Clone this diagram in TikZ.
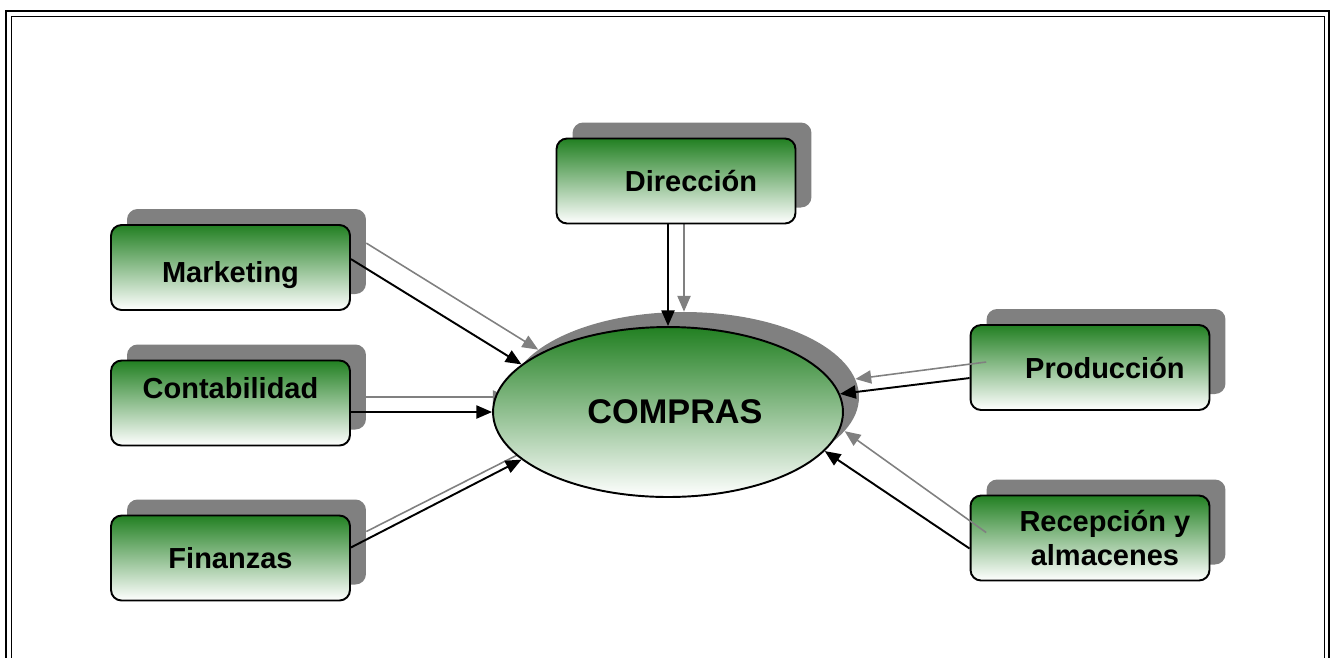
\documentclass[tikz,border=0pt]{standalone}
\usepackage{fontspec}
\setmainfont{Liberation Sans}
\usetikzlibrary{shapes,arrows.meta,positioning,backgrounds}

\definecolor{deptgreen}{RGB}{34,128,34}
\definecolor{deptmid}{RGB}{168,200,168}
\definecolor{shadowgray}{RGB}{128,128,128}

\begin{document}
\begin{tikzpicture}[x=0.02cm,y=-0.02cm,>={Triangle[length=9pt,width=7.5pt]},font=\fontsize{16.5}{19}\selectfont\bfseries,
  main node/.style={rectangle,rounded corners=6pt,draw,line width=1.1pt,minimum width=4.78cm,minimum height=1.7cm,top color=deptgreen,middle color=deptmid,bottom color=white,align=center,inner sep=0pt},
  shadow node/.style={rectangle,rounded corners=6pt,fill=shadowgray,minimum width=4.78cm,minimum height=1.7cm,inner sep=0pt},
  core node/.style={ellipse,draw,line width=1.1pt,minimum width=7cm,minimum height=3.4cm,top color=deptgreen,middle color=deptmid,bottom color=white,inner sep=0pt,font=\fontsize{19.5}{23}\selectfont\bfseries},
  core shadow/.style={ellipse,fill=shadowgray,minimum width=7cm,minimum height=3.4cm,inner sep=0pt},
  link/.style={->,line width=1.1pt,black},
  shadow link/.style={->,line width=0.9pt,shadowgray}]
    \useasboundingbox (0,0) rectangle (1331,657);
    \clip (0,0) rectangle (1331,657);

    % double frame, open at the bottom
    \draw[line width=1.1pt] (6,700) |- (1329,11) -- (1329,700);
    \draw[line width=1.1pt] (11.5,700) |- (1324.5,16.5) -- (1324.5,700);

    \node[main node,text height=20pt] (mkt) at (230.5,267.5) {Marketing};
    \node[main node,text depth=17pt] (cont) at (230.5,403) {Contabilidad};
    \node[main node] (fin) at (230.5,558) {Finanzas};
    \node[main node] (dir) at (676,181) {\hspace*{17pt}Dirección};
    \node[main node] (prod) at (1090,367.5) {\hspace*{17pt}Producción};
    \node[main node] (rec) at (1090,538) {\hspace*{17pt}Recepción y\\\hspace*{17pt}almacenes};
    \node[core node] (compras) at (668,412) {\hspace*{8pt}COMPRAS};

  \begin{scope}[on background layer]
    \foreach \n in {mkt,cont,fin,dir,prod,rec}
      \node[shadow node] (\n-s) at ([shift={(16,-16)}]\n) {};
    \node[core shadow] (compras-s) at ([shift={(16,-15)}]compras) {};

    \path[shadow link]
    (mkt-s.4) edge (compras-s.162)
    (cont-s.east |- compras-s) edge (compras-s.west)
    (fin-s.5) edge (compras-s.198)
    (dir-s.south -| compras-s) edge (compras-s.north);
  \end{scope}

  \path[shadow link]
  (prod-s.185) edge (compras-s.6)
  (rec-s.185) edge (compras-s.348);

  \path[link]
  (mkt.4) edge (compras.162)
  (cont.east |- compras) edge (compras.west)
  (fin.5) edge (compras.198)
  (dir.south -| compras) edge (compras.north)
  (prod.185) edge (compras.6)
  (rec.185) edge (compras.346);
\end{tikzpicture}
\end{document}
